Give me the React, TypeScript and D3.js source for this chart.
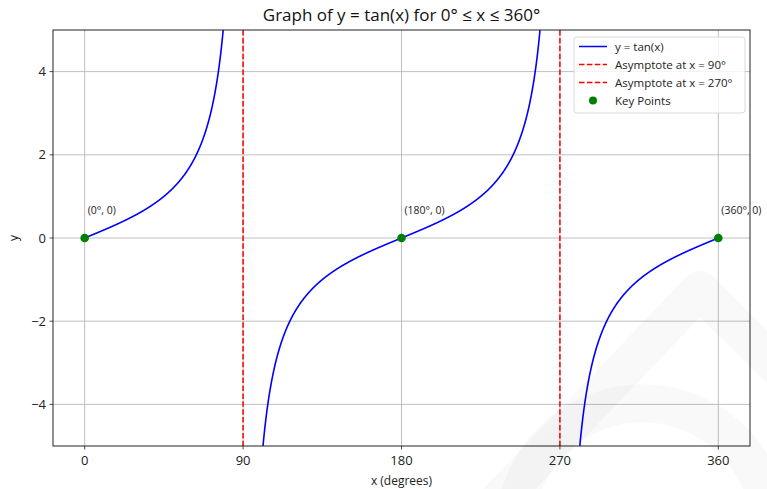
import React from "react";
import * as d3 from "d3";

// Axis ranges and ticks
const xDomain: [number, number] = [-18, 378];
const yDomain: [number, number] = [-5, 5];
const xTicks = [0, 90, 180, 270, 360];
const yTicks = [-4, -2, 0, 2, 4];

// Vertical asymptotes of tan(x) in the interval
const asymptotes = [90, 270];
const asymptoteLabels = ["Asymptote at x = 90°", "Asymptote at x = 270°"];

// Zeros of tan(x) marked on the chart
const keyX = [0, 180, 360];
const keyY = [0, 0, 0];
const keyLabels = ["(0°, 0)", "(180°, 0)", "(360°, 0)"];

// Continuous branches of tan(x) between asymptotes, in degrees
const branches: [number, number][] = [
  [0, 89.9],
  [90.1, 269.9],
  [270.1, 360],
];

const W = 767;
const H = 489;
const M = { left: 53, right: 17, top: 30, bottom: 43 };
const FONT = "'Open Sans', Roboto, sans-serif";

export default function App() {
  const x = d3.scaleLinear().domain(xDomain).range([M.left, W - M.right]);
  const y = d3.scaleLinear().domain(yDomain).range([H - M.bottom, M.top]);

  const line = d3
    .line<[number, number]>()
    .defined((d) => Math.abs(d[1]) < 60)
    .x((d) => x(d[0]))
    .y((d) => y(d[1]));

  const paths = branches.map(([a, b]) => {
    const pts: [number, number][] = d3
      .range(a, b + 1e-9, 0.1)
      .map((deg) => [deg, Math.tan((deg * Math.PI) / 180)]);
    return line(pts) || "";
  });

  const [x0, x1] = x.range();
  const [y0, y1] = y.range();

  const legendX = 574;
  const legendY = 37;
  const rowH = 18;
  const legendItems = [
    { kind: "line", color: "blue", dash: "", label: "y = tan(x)" },
    { kind: "line", color: "red", dash: "5.5,2.4", label: asymptoteLabels[0] },
    { kind: "line", color: "red", dash: "5.5,2.4", label: asymptoteLabels[1] },
    { kind: "dot", color: "green", dash: "", label: "Key Points" },
  ];

  return (
    <svg
      width={W}
      height={H}
      style={{ position: "fixed", left: 0, top: 0, background: "#fff" }}
      fontFamily={FONT}
    >
      <defs>
        <clipPath id="plot-clip">
          <rect x={x0} y={y1} width={x1 - x0} height={y0 - y1} />
        </clipPath>
      </defs>

      {/* grid */}
      {xTicks.map((t) => (
        <line key={"gx" + t} x1={x(t)} x2={x(t)} y1={y1} y2={y0} stroke="#b0b0b0" strokeWidth={0.8} />
      ))}
      {yTicks.map((t) => (
        <line key={"gy" + t} x1={x0} x2={x1} y1={y(t)} y2={y(t)} stroke="#b0b0b0" strokeWidth={0.8} />
      ))}

      <g clipPath="url(#plot-clip)">
        {paths.map((p, i) => (
          <path key={i} d={p} fill="none" stroke="blue" strokeWidth={1.6} />
        ))}
        {asymptotes.map((a) => (
          <line
            key={"as" + a}
            x1={x(a)}
            x2={x(a)}
            y1={y1}
            y2={y0}
            stroke="red"
            strokeWidth={1.5}
            strokeDasharray="5.5,2.4"
          />
        ))}
        {keyX.map((k, i) => (
          <circle key={"kp" + i} cx={x(k)} cy={y(keyY[i])} r={4.3} fill="green" />
        ))}
      </g>

      {keyX.map((k, i) => (
        <text key={"kl" + i} x={x(k) + 3} y={y(keyY[i]) - 24} fontSize={10.5} fill="#222">
          {keyLabels[i]}
        </text>
      ))}

      {/* spines */}
      <rect x={x0} y={y1} width={x1 - x0} height={y0 - y1} fill="none" stroke="#222" strokeWidth={1} />

      {/* ticks */}
      {xTicks.map((t) => (
        <g key={"tx" + t}>
          <line x1={x(t)} x2={x(t)} y1={y0} y2={y0 + 3.5} stroke="#222" strokeWidth={0.8} />
          <text x={x(t)} y={y0 + 19} textAnchor="middle" fontSize={13} fill="#222">
            {t}
          </text>
        </g>
      ))}
      {yTicks.map((t) => (
        <g key={"ty" + t}>
          <line x1={x0} x2={x0 - 3.5} y1={y(t)} y2={y(t)} stroke="#222" strokeWidth={0.8} />
          <text x={x0 - 7} y={y(t) + 4.5} textAnchor="end" fontSize={13} fill="#222">
            {t < 0 ? "\u2212" + Math.abs(t) : t}
          </text>
        </g>
      ))}

      {/* labels */}
      <text x={(x0 + x1) / 2} y={21} textAnchor="middle" fontSize={17} fill="#111">
        Graph of y = tan(x) for 0° ≤ x ≤ 360°
      </text>
      <text x={(x0 + x1) / 2} y={485} textAnchor="middle" fontSize={12} fill="#222">
        x (degrees)
      </text>
      <text
        transform={`translate(18, ${(y0 + y1) / 2}) rotate(-90)`}
        textAnchor="middle"
        fontSize={12}
        fill="#222"
      >
        y
      </text>

      {/* legend */}
      <rect
        x={legendX}
        y={legendY}
        width={171}
        height={76}
        rx={3}
        fill="#fff"
        fillOpacity={0.8}
        stroke="#d0d0d0"
        strokeWidth={0.8}
      />
      {legendItems.map((it, i) => {
        const cy = legendY + 9.5 + i * rowH;
        return (
          <g key={"lg" + i}>
            {it.kind === "line" ? (
              <line
                x1={legendX + 5}
                x2={legendX + 33}
                y1={cy}
                y2={cy}
                stroke={it.color}
                strokeWidth={1.5}
                strokeDasharray={it.dash || undefined}
              />
            ) : (
              <circle cx={legendX + 19} cy={cy} r={4} fill={it.color} />
            )}
            <text x={legendX + 41} y={cy + 4} fontSize={11.5} fill="#222">
              {it.label}
            </text>
          </g>
        );
      })}

      {/* faint emblem in the lower right corner */}
      <g fill="none" stroke="#000" strokeOpacity={0.025} strokeWidth={38} strokeLinejoin="round">
        <polyline points="470,530 700,290 810,400" />
        <path d="M 515 520 A 128 128 0 0 1 770 520" />
      </g>
    </svg>
  );
}
